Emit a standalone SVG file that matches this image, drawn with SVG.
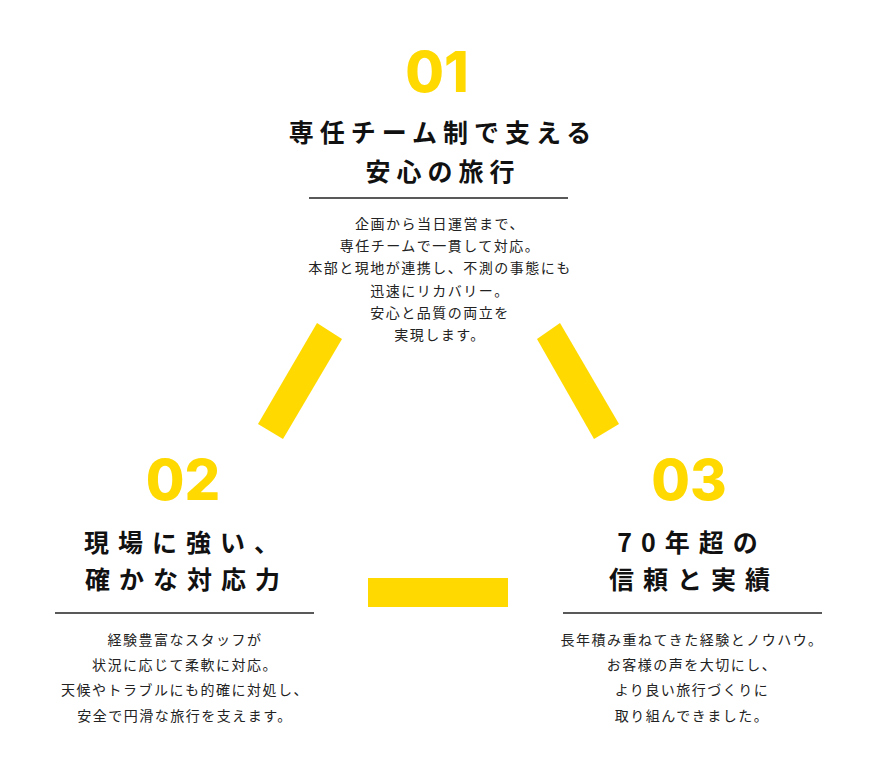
<svg xmlns="http://www.w3.org/2000/svg" width="876" height="778" viewBox="0 0 876 778">
<style>
.num{font-family:"Inter","Lato",sans-serif;font-weight:800;font-size:56px;fill:#FFD900;text-anchor:middle}
.t{font-family:"Noto Sans CJK JP",sans-serif;font-weight:700;font-size:25px;fill:#111;text-anchor:middle}
.b{font-family:"Noto Sans CJK JP",sans-serif;font-size:14px;fill:#222;text-anchor:middle;letter-spacing:1.5px}
.bar{fill:#FFD900}
.rule{stroke:#222;stroke-width:1.5}
</style>
<rect width="876" height="778" fill="#fff"/>
<g id="connectors">
<polygon class="bar" points="317,323 342,339 283,439 258,424"/>
<polygon class="bar" points="537,339 560,323 619,424 594,439"/>
<rect class="bar" x="368" y="578" width="140" height="29"/>
</g>
<g id="node1">
<text class="num" x="437" y="92">01</text>
<text class="t" x="443" y="142" letter-spacing="6">専任チーム制で支える</text>
<text class="t" x="443" y="181" letter-spacing="6">安心の旅行</text>
<line class="rule" x1="309" y1="198" x2="568" y2="198"/>
<text class="b" x="440" y="229">企画から当日運営まで、</text>
<text class="b" x="440" y="251">専任チームで一貫して対応。</text>
<text class="b" x="440" y="273">本部と現地が連携し、不測の事態にも</text>
<text class="b" x="440" y="296">迅速にリカバリー。</text>
<text class="b" x="440" y="318">安心と品質の両立を</text>
<text class="b" x="440" y="340">実現します。</text>
</g>
<g id="node2">
<text class="num" x="183" y="500">02</text>
<text class="t" x="186" y="552" letter-spacing="9">現場に強い、</text>
<text class="t" x="187" y="589" letter-spacing="9">確かな対応力</text>
<line class="rule" x1="55" y1="613" x2="314" y2="613"/>
<text class="b" x="185" y="645">経験豊富なスタッフが</text>
<text class="b" x="185" y="670">状況に応じて柔軟に対応。</text>
<text class="b" x="185" y="695">天候やトラブルにも的確に対処し、</text>
<text class="b" x="185" y="721">安全で円滑な旅行を支えます。</text>
</g>
<g id="node3">
<text class="num" x="689" y="500">03</text>
<text class="t" x="692" y="552" letter-spacing="9">70年超の</text>
<text class="t" x="694" y="589" letter-spacing="9">信頼と実績</text>
<line class="rule" x1="563" y1="613" x2="822" y2="613"/>
<text class="b" x="692" y="645">長年積み重ねてきた経験とノウハウ。</text>
<text class="b" x="692" y="670">お客様の声を大切にし、</text>
<text class="b" x="692" y="695">より良い旅行づくりに</text>
<text class="b" x="692" y="721">取り組んできました。</text>
</g>
</svg>
